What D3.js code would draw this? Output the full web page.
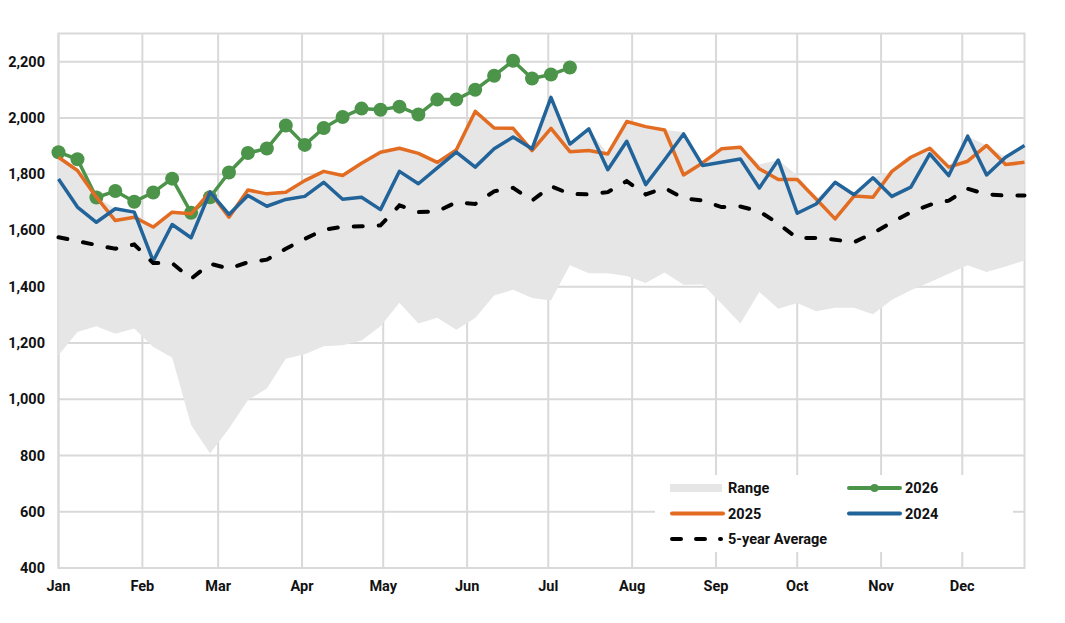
<!DOCTYPE html>
<html>
<head>
<meta charset="utf-8">
<script src="https://cdn.jsdelivr.net/npm/d3@7"></script>
<style>
  body { margin: 0; background: #fff; }
  svg text { font-family: Roboto, "Noto Sans", sans-serif; font-weight: 700; fill: #111; }
</style>
</head>
<body>
<svg id="chart" width="1065" height="623"></svg>
<script>
// weekly values, week 1 = Jan 1
var y2026 = [1878, 1853, 1717, 1740, 1702, 1735, 1784, 1663, 1718, 1806, 1875, 1891,
  1973, 1904, 1964, 2003, 2033, 2029, 2040, 2012, 2065, 2065, 2100, 2150, 2203, 2140, 2154, 2179];

var y2025 = [1860, 1813, 1718, 1635, 1647, 1612, 1665, 1659, 1736, 1647, 1744, 1730,
  1736, 1777, 1810, 1795, 1839, 1878, 1892, 1874, 1842, 1886, 2023, 1964, 1963, 1884,
  1963, 1880, 1884, 1872, 1987, 1969, 1957, 1797, 1840, 1890, 1896, 1819, 1781, 1781,
  1712, 1641, 1722, 1718, 1810, 1860, 1892, 1825, 1846, 1902, 1834, 1842];

var y2024 = [1783, 1683, 1629, 1677, 1665, 1491, 1621, 1574, 1736, 1657, 1724, 1686,
  1710, 1721, 1771, 1711, 1718, 1674, 1810, 1766, 1822, 1878, 1825, 1890, 1932, 1890,
  2073, 1907, 1961, 1816, 1917, 1763, 1851, 1943, 1831, 1842, 1854, 1751, 1850, 1661,
  1694, 1771, 1727, 1787, 1721, 1754, 1872, 1795, 1935, 1797, 1860, 1902];

var avg5 = [1576, 1562, 1548, 1535, 1550, 1484, 1484, 1428, 1482, 1464, 1487, 1496,
  1535, 1570, 1602, 1613, 1615, 1618, 1689, 1665, 1668, 1700, 1694, 1739, 1751, 1706,
  1757, 1730, 1728, 1736, 1775, 1728, 1751, 1714, 1706, 1683, 1685, 1668, 1624, 1573,
  1573, 1567, 1558, 1590, 1629, 1665, 1691, 1706, 1748, 1728, 1724, 1724];

var rangeHigh = [1860, 1813, 1720, 1677, 1665, 1612, 1665, 1659, 1736, 1657, 1744, 1730,
  1736, 1777, 1810, 1795, 1839, 1878, 1892, 1874, 1842, 1886, 2023, 1964, 1963, 1890,
  2073, 1907, 1961, 1872, 1987, 1969, 1957, 1950, 1842, 1890, 1896, 1835, 1850, 1795,
  1712, 1771, 1727, 1787, 1810, 1860, 1892, 1825, 1935, 1902, 1860, 1902];

var rangeLow = [1156, 1239, 1259, 1233, 1251, 1186, 1148, 908, 807, 896, 996, 1038,
  1144, 1160, 1188, 1192, 1209, 1259, 1343, 1269, 1290, 1247, 1289, 1369, 1389, 1360,
  1351, 1476, 1448, 1448, 1438, 1413, 1450, 1407, 1408, 1340, 1269, 1381, 1322, 1342,
  1313, 1325, 1325, 1302, 1354, 1387, 1416, 1446, 1476, 1452, 1472, 1493];

var yTicks = [400, 600, 800, 1000, 1200, 1400, 1600, 1800, 2000, 2200];

var colors = { range: "#e6e6e6", y2026: "#4c944a", y2025: "#e26c22", y2024: "#22649a", avg: "#000", grid: "#d9d9d9" };

var start = new Date(2025, 0, 1);
function weekDate(i) { return d3.timeDay.offset(start, 7 * i); }

var margin = { left: 58.5, right: 1024.5, top: 33.5, bottom: 568 };
var svg = d3.select("#chart");

var x = d3.scaleTime()
  .domain([start, weekDate(rangeLow.length - 1)])
  .range([margin.left, margin.right]);

var y = d3.scaleLinear()
  .domain([400, 2300])
  .range([margin.bottom, margin.top]);

// grid
var grid = svg.append("g");
grid.selectAll("line.h").data(yTicks).enter().append("line")
  .attr("x1", margin.left).attr("x2", margin.right)
  .attr("y1", function(d) { return y(d); }).attr("y2", function(d) { return y(d); })
  .attr("stroke", colors.grid).attr("stroke-width", 2);

var months = x.ticks(d3.timeMonth.every(1));
grid.selectAll("line.v").data(months).enter().append("line")
  .attr("x1", function(d) { return x(d); }).attr("x2", function(d) { return x(d); })
  .attr("y1", margin.top).attr("y2", margin.bottom)
  .attr("stroke", colors.grid).attr("stroke-width", 2);

grid.append("rect")
  .attr("x", margin.left).attr("y", margin.top)
  .attr("width", margin.right - margin.left).attr("height", margin.bottom - margin.top)
  .attr("fill", "none").attr("stroke", colors.grid).attr("stroke-width", 2);

// range band
var area = d3.area()
  .x(function(d, i) { return x(weekDate(i)); })
  .y0(function(d, i) { return y(rangeLow[i]); })
  .y1(function(d) { return y(d); });

svg.append("path").datum(rangeHigh)
  .attr("d", area).attr("fill", colors.range);

var line = d3.line()
  .x(function(d, i) { return x(weekDate(i)); })
  .y(function(d) { return y(d); });

// 2026 with markers
svg.append("path").datum(y2026)
  .attr("d", line).attr("fill", "none")
  .attr("stroke", colors.y2026).attr("stroke-width", 3.5).attr("stroke-linejoin", "round");
svg.append("g").selectAll("circle").data(y2026).enter().append("circle")
  .attr("cx", function(d, i) { return x(weekDate(i)); })
  .attr("cy", function(d) { return y(d); })
  .attr("r", 7)
  .attr("fill", colors.y2026);

svg.append("path").datum(y2025)
  .attr("d", line).attr("fill", "none")
  .attr("stroke", colors.y2025).attr("stroke-width", 3.5).attr("stroke-linejoin", "round");

svg.append("path").datum(y2024)
  .attr("d", line).attr("fill", "none")
  .attr("stroke", colors.y2024).attr("stroke-width", 3.5).attr("stroke-linejoin", "round");

svg.append("path").datum(avg5)
  .attr("d", line).attr("fill", "none")
  .attr("stroke", colors.avg).attr("stroke-width", 4)
  .attr("stroke-dasharray", "9,16").attr("stroke-linecap", "round");

// axes labels
var fmt = d3.format(",");
svg.append("g").selectAll("text").data(yTicks).enter().append("text")
  .attr("x", 45).attr("y", function(d) { return y(d); })
  .attr("dy", "0.35em").attr("text-anchor", "end")
  .style("font-size", "14.5px")
  .text(function(d) { return fmt(d); });

svg.append("g").selectAll("text").data(months).enter().append("text")
  .attr("x", function(d) { return x(d); }).attr("y", 586)
  .attr("dy", "0.35em").attr("text-anchor", "middle")
  .style("font-size", "14.5px")
  .text(function(d) { return d3.timeFormat("%b")(d); });

// legend
var legend = svg.append("g");
legend.append("rect").attr("x", 655).attr("y", 475).attr("width", 358).attr("height", 77).attr("fill", "#fff");

var items = [
  { name: "Range", col: 0, row: 0, type: "rect", color: colors.range },
  { name: "2026", col: 1, row: 0, type: "marker", color: colors.y2026 },
  { name: "2025", col: 0, row: 1, type: "line", color: colors.y2025 },
  { name: "2024", col: 1, row: 1, type: "line", color: colors.y2024 },
  { name: "5-year Average", col: 0, row: 2, type: "dash", color: colors.avg }
];

items.forEach(function(it) {
  var lx = it.col ? 847 : 670, ly = 488 + it.row * 25.5;
  var g = legend.append("g");
  if (it.type === "rect") {
    g.append("rect").attr("x", lx).attr("y", ly - 4).attr("width", 52).attr("height", 8).attr("fill", it.color);
  } else {
    var l = g.append("line").attr("x1", lx + 2).attr("x2", lx + 53).attr("y1", ly).attr("y2", ly)
      .attr("stroke", it.color).attr("stroke-width", 4).attr("stroke-linecap", "round");
    if (it.type === "dash") l.attr("stroke-dasharray", "9,15").attr("x2", lx + 51);
    if (it.type === "marker") g.append("circle").attr("cx", lx + 27.5).attr("cy", ly).attr("r", 4).attr("fill", it.color);
  }
  g.append("text").attr("x", lx + 58).attr("y", ly).attr("dy", "0.35em")
    .style("font-size", "14.5px").text(it.name);
});
</script>
</body>
</html>
